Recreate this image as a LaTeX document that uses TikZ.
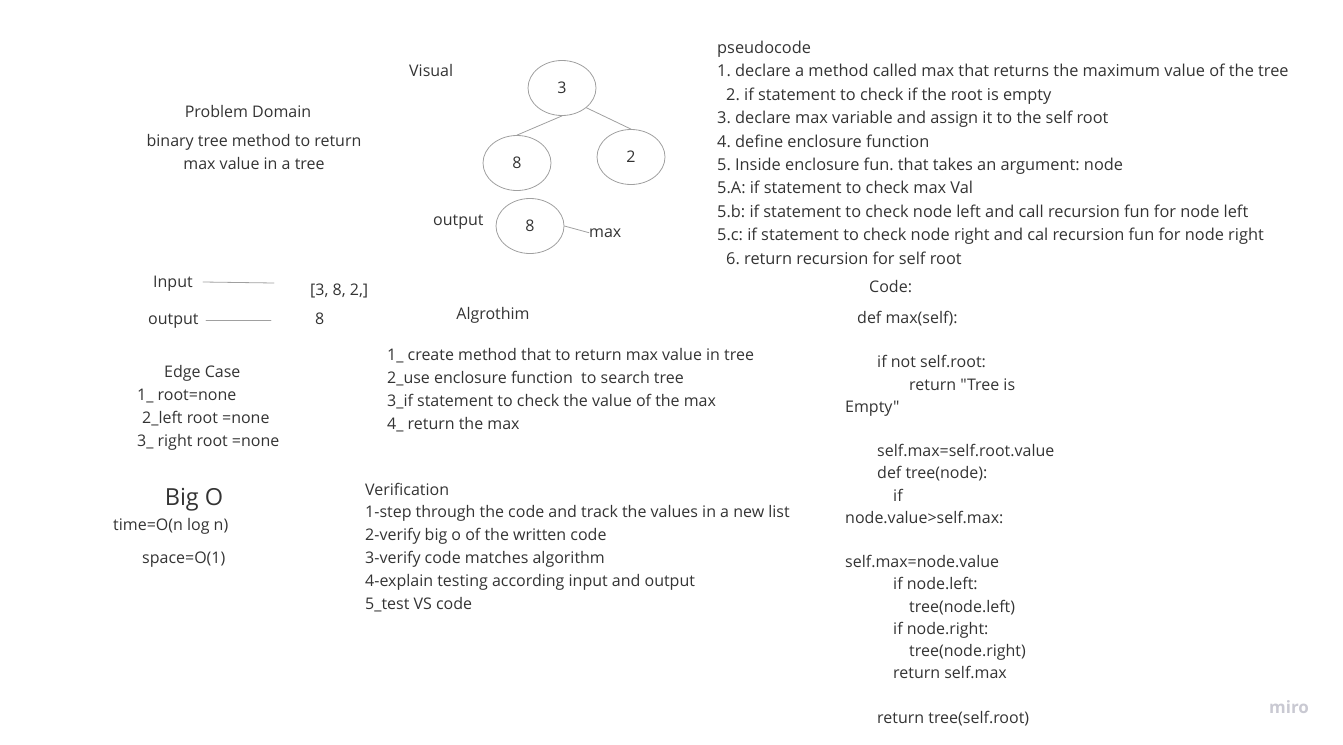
\documentclass[tikz,border=0pt]{standalone}
\usepackage{fontspec}
\setmainfont{Open Sans}
\newfontfamily\boardfont{Open Sans}
\usepackage{xcolor}
\usepackage{tikz}
\usetikzlibrary{shapes.geometric}

\definecolor{ink}{HTML}{333333}
\definecolor{rim}{HTML}{A0A0A0}
\definecolor{mark}{HTML}{C9C9D2}

\newcommand{\bodyfont}{\boardfont\fontsize{16}{22.4}\selectfont}
\frenchspacing

\begin{document}
\begin{tikzpicture}[x=1pt, y=-1pt, line join = round, line cap = round,
    txt/.style={anchor=base west, inner sep=0pt, text=ink, font=\bodyfont, align=left},
    mid/.style={txt, anchor=base, align=center},
    blob/.style={ellipse, draw=rim, line width=0.8pt, minimum width=68pt, minimum height=55pt, inner sep=0pt, text=ink, font=\bodyfont},
    wire/.style={draw=rim, line width=0.8pt}]

    \useasboundingbox (0,0) rectangle (1343,744);

    % multi-line texts sit on the baseline of their last line

    % problem domain
    \node [mid] (dom) at (248,117) {Problem Domain};
    \node [mid] (domtext) at (254,169) {binary tree method to return\\max value in a tree};

    % visual
    \node [txt] (vis) at (409,76) {Visual};
    \node [blob] (root) at (562,88) {3};
    \node [blob] (lft) at (517,163) {8};
    \node [blob] (rgt) at (631,157) {2};
    \draw [wire] (root.south) -- (lft.north);
    \draw [wire] (root.south east) -- (rgt.north);

    % output of the tree
    \node [txt] (outlbl) at (433,225) {output};
    \node [blob] (res) at (530,226) {8};
    \node [txt] (mx) at (589,237) {max};
    \draw [wire] (res.east) -- (mx.west);

    % input / output
    \node [txt] (inp) at (153,287) {Input};
    \coordinate (inA) at (203,282);
    \coordinate (inB) at (274,283);
    \draw [wire] (inA) -- (inB);
    \node [txt] (inval) at (310,295) {[3, 8, 2,]};
    \node [txt] (outp) at (148,324) {output};
    \coordinate (outA) at (206,320);
    \coordinate (outB) at (271,320);
    \draw [wire] (outA) -- (outB);
    \node [txt] (outval) at (315,324) {8};

    % edge case
    \node [txt, font=\boardfont\fontsize{16}{22.7}\selectfont] (edge) at (137,446) {\hspace*{27pt}Edge Case\\
        1\_ root=none\\
        \hspace*{5pt}2\_left root =none\\
        3\_ right root =none};

    % big o
    \node [mid, font=\boardfont\fontsize{23.5}{26}\selectfont] (bigo) at (194,505) {Big O};
    \node [txt] (tm) at (113,530) {time=O(n log n)};
    \node [txt] (sp) at (142,563) {space=O(1)};

    % algorithm
    \node [mid] (alg) at (493,319) {Algrothim};
    \node [txt, font=\boardfont\fontsize{16}{22.7}\selectfont] (algtext) at (387,429) {1\_ create method that to return max value in tree\\
        2\_use enclosure function\ \ to search tree\\
        3\_if statement to check the value of the max\\
        4\_ return the max};

    % verification
    \node [txt, font=\boardfont\fontsize{16}{22.8}\selectfont] (ver) at (365,609) {Verification\\
        1-step through the code and track the values in a new list\\
        2-verify big o of the written code\\
        3-verify code matches algorithm\\
        4-explain testing according input and output\\
        5\_test VS code};

    % pseudocode
    \node [txt, font=\boardfont\fontsize{16.35}{23.4}\selectfont] (pseudo) at (717,264) {pseudocode\\
        1. declare a method called max that returns the maximum value of the tree\\
        \hspace*{9pt}2. if statement to check if the root is empty\\
        3. declare max variable and assign it to the self root\\
        4. define enclosure function\\
        5. Inside enclosure fun. that takes an argument: node\\
        5.A: if statement to check max Val\\
        5.b: if statement to check node left and call recursion fun for node left\\
        5.c: if statement to check node right and cal recursion fun for node right\\
        \hspace*{9pt}6. return recursion for self root};

    % code
    \node [txt] (codehead) at (869,292) {Code:};
    \node [txt, font=\boardfont\fontsize{16}{22.2}\selectfont] (code) at (845,723) {\hspace*{12pt}def max(self):\\
        \mbox{}\\
        \hspace*{32pt}if not self.root:\\
        \hspace*{64pt}return "Tree is\\
        Empty"\\
        \mbox{}\\
        \hspace*{32pt}self.max=self.root.value\\
        \hspace*{32pt}def tree(node):\\
        \hspace*{48pt}if\\
        node.value>self.max:\\
        \mbox{}\\
        self.max=node.value\\
        \hspace*{48pt}if node.left:\\
        \hspace*{64pt}tree(node.left)\\
        \hspace*{48pt}if node.right:\\
        \hspace*{64pt}tree(node.right)\\
        \hspace*{48pt}return self.max\\
        \mbox{}\\
        \hspace*{32pt}return tree(self.root)};

    % watermark
    \node [txt, text=mark, font=\boardfont\fontsize{17}{20}\selectfont\bfseries] (miro) at (1269,713) {miro};

\end{tikzpicture}
\end{document}
